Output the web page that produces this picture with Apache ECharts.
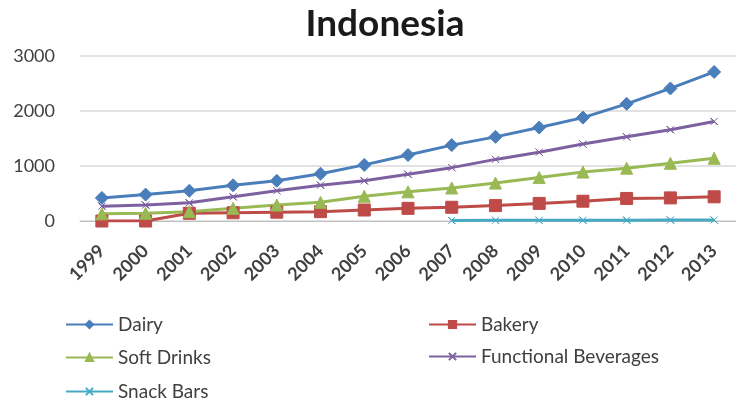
<!DOCTYPE html>
<html>
<head>
<meta charset="utf-8">
<script src="https://cdn.jsdelivr.net/npm/echarts@6/dist/echarts.min.js"></script>
<style>
  html, body { margin: 0; padding: 0; background: #fff; }
  #chart { width: 736px; height: 407px; }
</style>
</head>
<body>
<div id="chart"></div>
<script>
// Years on the category axis
const years = ['1999','2000','2001','2002','2003','2004','2005','2006','2007','2008','2009','2010','2011','2012','2013'];

// Series values per year
const dairy = [420, 480, 550, 650, 730, 860, 1020, 1200, 1380, 1530, 1700, 1880, 2130, 2410, 2710];
const bakery = [0, 0, 140, 150, 160, 170, 200, 230, 250, 280, 320, 360, 410, 420, 440];
const softDrinks = [130, 140, 170, 230, 290, 340, 450, 530, 600, 690, 790, 890, 960, 1050, 1140];
const functionalBeverages = [270, 290, 330, 440, 550, 650, 730, 850, 970, 1120, 1250, 1400, 1530, 1660, 1810];
const snackBars = [null, null, null, null, null, null, null, null, 10, 12, 13, 14, 15, 16, 18];

// Y axis ticks
const yTicks = [0, 1000, 2000, 3000];

const crossPath = 'path://M0,0 L10,10 M10,0 L0,10 M0,0 L10,10 Z';
const FONT = 'Lato, sans-serif';

function lineSeries(name, data, color, symbol, size) {
  return {
    name: name,
    type: 'line',
    data: data,
    symbol: symbol,
    symbolSize: size,
    connectNulls: false,
    lineStyle: { color: color, width: 3 },
    itemStyle: { color: color, borderColor: color, borderWidth: 1 },
    emphasis: { disabled: true }
  };
}

const legendText = { fontFamily: FONT, fontSize: 19, color: '#404040' };

// One legend entry per slot of the two-column legend block
function legendAt(name, left, top) {
  return {
    data: [name],
    left: left,
    top: top,
    padding: 0,
    itemWidth: 47,
    itemHeight: 9,
    itemGap: 3,
    textStyle: legendText
  };
}

const chart = echarts.init(document.getElementById('chart'), null, { renderer: 'canvas' });

chart.setOption({
  animation: false,
  backgroundColor: '#ffffff',
  title: {
    text: 'Indonesia',
    left: 380,
    top: 1,
    textAlign: 'center',
    textStyle: { fontFamily: FONT, fontWeight: 'bold', fontSize: 37, color: '#1a1a1a' }
  },
  legend: [
    legendAt('Dairy', 65, 315),
    legendAt('Soft Drinks', 65, 348),
    legendAt('Snack Bars', 65, 382),
    legendAt('Bakery', 428, 315),
    legendAt('Functional Beverages', 428, 347)
  ],
  grid: { left: 80, top: 56, width: 672, height: 165, containLabel: false },
  xAxis: {
    type: 'category',
    data: years,
    boundaryGap: true,
    axisLine: { show: true, lineStyle: { color: '#bfbfbf', width: 1 } },
    axisTick: { show: false },
    axisLabel: {
      rotate: 45,
      interval: 0,
      margin: 27,
      fontFamily: FONT,
      fontSize: 18,
      fontWeight: 'bold',
      color: '#404040'
    }
  },
  yAxis: {
    type: 'value',
    min: yTicks[0],
    max: yTicks[yTicks.length - 1],
    interval: 1000,
    axisLine: { show: false },
    axisTick: { show: false },
    splitLine: { lineStyle: { color: '#d9d9d9', width: 1.5 } },
    axisLabel: {
      margin: 25,
      formatter: function (v) { return String(v); },
      fontFamily: FONT,
      fontSize: 18,
      color: '#404040'
    }
  },
  series: [
    lineSeries('Dairy', dairy, '#4a7ebb', 'diamond', 13),
    lineSeries('Bakery', bakery, '#be4b48', 'rect', 12),
    lineSeries('Soft Drinks', softDrinks, '#98b954', 'triangle', 12),
    lineSeries('Functional Beverages', functionalBeverages, '#7d60a0', crossPath, 7),
    lineSeries('Snack Bars', snackBars, '#46aac5', crossPath, 7)
  ]
});
</script>
</body>
</html>
